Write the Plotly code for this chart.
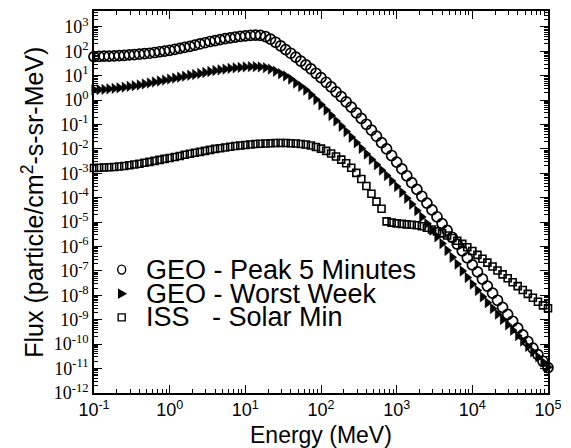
import plotly.graph_objects as go

# ---------------- data ----------------
energy_mev = [
    0.100, 0.117, 0.136, 0.158, 0.185, 0.215, 0.251, 0.293, 0.341, 0.398, 0.464, 0.541, 0.631, 0.736, 0.858,
    1.00, 1.17, 1.36, 1.58, 1.85, 2.15, 2.51, 2.93, 3.41, 3.98, 4.64, 5.41, 6.31, 7.36, 8.58,
    10.0, 11.7, 13.6, 15.8, 18.5, 21.5, 25.1, 29.3, 34.1, 39.8, 46.4, 54.1, 63.1, 73.6, 85.8,
    100, 117, 136, 158, 185, 215, 251, 293, 341, 398, 464, 541, 631, 736, 858,
    1000, 1170, 1360, 1580, 1850, 2150, 2510, 2930, 3410, 3980, 4640, 5410, 6310, 7360, 8580,
    10000, 11700, 13600, 15800, 18500, 21500, 25100, 29300, 34100, 39800, 46400, 54100, 63100, 73600, 85800,
    100000,
]

# log10 of flux (particle/cm^2-s-sr-MeV)
geo_peak5min_log = [
    1.78, 1.79, 1.80, 1.80, 1.81, 1.82, 1.83, 1.85, 1.86, 1.88, 1.90, 1.92, 1.95, 1.98, 2.01,
    2.04, 2.08, 2.12, 2.16, 2.20, 2.25, 2.30, 2.35, 2.40, 2.44, 2.48, 2.52, 2.55, 2.58, 2.61,
    2.63, 2.65, 2.66, 2.65, 2.60, 2.50, 2.37, 2.22, 2.07, 1.92, 1.76, 1.60, 1.44, 1.28, 1.10,
    0.92, 0.73, 0.54, 0.34, 0.14, -0.07, -0.29, -0.52, -0.75, -0.99, -1.23, -1.48, -1.74, -2.00, -2.27,
    -2.54, -2.82, -3.10, -3.38, -3.66, -3.94, -4.22, -4.50, -4.78, -5.06, -5.34, -5.62, -5.90, -6.18, -6.46,
    -6.75, -7.04, -7.33, -7.62, -7.91, -8.20, -8.49, -8.78, -9.06, -9.34, -9.62, -9.89, -10.16, -10.43, -10.70,
    -10.96,
]

geo_worstweek_log = [
    0.42, 0.43, 0.44, 0.46, 0.48, 0.50, 0.53, 0.56, 0.59, 0.62, 0.66, 0.70, 0.74, 0.78, 0.82,
    0.86, 0.90, 0.94, 0.98, 1.02, 1.05, 1.09, 1.13, 1.17, 1.21, 1.24, 1.27, 1.30, 1.32, 1.34,
    1.36, 1.37, 1.37, 1.36, 1.33, 1.27, 1.18, 1.08, 0.99, 0.86, 0.70, 0.56, 0.41, 0.22, 0.02,
    -0.19, -0.41, -0.63, -0.85, -1.07, -1.29, -1.52, -1.75, -1.98, -2.21, -2.43, -2.65, -2.87, -3.09, -3.31,
    -3.54, -3.78, -4.02, -4.27, -4.53, -4.79, -5.06, -5.33, -5.60, -5.88, -6.16, -6.44, -6.72, -7.00, -7.27,
    -7.54, -7.80, -8.06, -8.30, -8.54, -8.77, -8.99, -9.21, -9.43, -9.65, -9.87, -10.09, -10.31, -10.52, -10.73,
    -10.94,
]

iss_solarmin_log = [
    -2.78, -2.77, -2.76, -2.75, -2.74, -2.72, -2.70, -2.67, -2.64, -2.61, -2.57, -2.53, -2.49, -2.45, -2.41,
    -2.37, -2.33, -2.29, -2.24, -2.20, -2.16, -2.12, -2.08, -2.04, -2.00, -1.97, -1.94, -1.91, -1.88, -1.86,
    -1.84, -1.82, -1.80, -1.79, -1.78, -1.77, -1.76, -1.76, -1.76, -1.77, -1.78, -1.80, -1.82, -1.86, -1.92,
    -1.99, -2.08, -2.19, -2.31, -2.44, -2.59, -2.77, -2.98, -3.23, -3.52, -3.84, -4.16, -4.45, -4.97, -5.02,
    -5.05, -5.07, -5.09, -5.11, -5.13, -5.17, -5.23, -5.30, -5.38, -5.46, -5.55, -5.65, -5.76, -5.89, -6.03,
    -6.18, -6.34, -6.50, -6.66, -6.82, -6.98, -7.14, -7.30, -7.46, -7.62, -7.78, -7.94, -8.10, -8.26, -8.41,
    -8.53,
]

series_names = ["GEO - Peak 5 Minutes", "GEO - Worst Week", "ISS\u00a0\u00a0\u00a0- Solar Min"]

x_tick_exponents = [-1, 0, 1, 2, 3, 4, 5]
y_tick_exponents = [-12, -11, -10, -9, -8, -7, -6, -5, -4, -3, -2, -1, 0, 1, 2, 3]

x_title = "Energy (MeV)"
y_title = "Flux (particle/cm<sup>2</sup>-s-sr-MeV)"

# ---------------- figure ----------------
def to_flux(logs):
    return [10 ** v for v in logs]

def power_label(e):
    return "10<sup>%d</sup>" % e

x_minor = [m * 10 ** e for e in range(-1, 5) for m in range(2, 10)]
y_minor = [m * 10 ** e for e in range(-12, 4) for m in range(2, 10)]

fig = go.Figure()
styles = [
    dict(symbol="circle-open", size=10, color="black", line=dict(width=1.7, color="black")),
    dict(symbol="triangle-right", size=9, color="black", line=dict(width=0.5, color="black")),
    dict(symbol="square-open", size=7, color="black", line=dict(width=1.6, color="black")),
]
for name, logs, st in zip(series_names, [geo_peak5min_log, geo_worstweek_log, iss_solarmin_log], styles):
    fig.add_trace(go.Scatter(x=energy_mev, y=to_flux(logs), mode="markers", name=name,
                             marker=st, cliponaxis=False, showlegend=False))

axis_common = dict(
    type="log", showline=True, linecolor="black", linewidth=1.5, mirror="allticks",
    ticks="inside", ticklen=8, tickwidth=1, tickcolor="black",
    showgrid=False, zeroline=False, tickmode="array", ticklabeloverflow="allow",
)

fig.update_xaxes(
    **axis_common, range=[-1, 5],
    tickvals=[10 ** e for e in x_tick_exponents],
    ticktext=[power_label(e) for e in x_tick_exponents],
    tickfont=dict(family="Liberation Sans, Arial", size=18, color="black"),
    minor=dict(tickmode="array", tickvals=x_minor, ticks="inside", ticklen=4, tickwidth=1, tickcolor="black"),
)
fig.update_yaxes(
    **axis_common, range=[-12, 3.65],
    tickvals=[10 ** e for e in y_tick_exponents],
    ticktext=[power_label(e) for e in y_tick_exponents],
    tickfont=dict(family="Liberation Serif, Times New Roman", size=18, color="black"),
    minor=dict(tickmode="array", tickvals=y_minor, ticks="inside", ticklen=4, tickwidth=1, tickcolor="black"),
)

# axis titles
fig.add_annotation(text=x_title, xref="paper", yref="paper", x=0.5, y=-0.109,
                   xanchor="center", yanchor="middle", showarrow=False,
                   font=dict(family="Liberation Sans, Arial", size=23, color="black"))
fig.add_annotation(text=y_title, xref="paper", yref="paper", x=-0.135, y=0.5, textangle=-90,
                   xanchor="center", yanchor="middle", showarrow=False,
                   font=dict(family="Liberation Sans, Arial", size=25, color="black"))

# legend drawn as text + symbols inside the plot area
legend_rows_y = [0.323, 0.260, 0.198]
sym_x = 0.061
text_x = 0.111
shape_common = dict(xref="paper", yref="paper", xsizemode="pixel", ysizemode="pixel",
                    line=dict(color="black", width=1.4))
fig.add_shape(type="circle", xanchor=sym_x, yanchor=legend_rows_y[0],
              x0=-4, x1=4, y0=-4.5, y1=4.5, **shape_common)
fig.add_shape(type="path", xanchor=sym_x, yanchor=legend_rows_y[1],
              path="M -3,-4 L 4,0 L -3,4 Z", fillcolor="black", **shape_common)
fig.add_shape(type="rect", xanchor=sym_x, yanchor=legend_rows_y[2],
              x0=-3.5, x1=3.5, y0=-3.5, y1=3.5, **shape_common)
for name, yy in zip(series_names, legend_rows_y):
    fig.add_annotation(text=name, xref="paper", yref="paper", x=text_x, y=yy,
                       xanchor="left", yanchor="middle", showarrow=False,
                       font=dict(family="Liberation Sans, Arial", size=27, color="black"))

fig.update_layout(
    width=571, height=448,
    margin=dict(l=94, r=18, t=9, b=55),
    paper_bgcolor="white", plot_bgcolor="white",
    showlegend=False,
)

fig.write_html("out.html", config={"displayModeBar": False},
               post_script="document.body.style.margin='0';")
